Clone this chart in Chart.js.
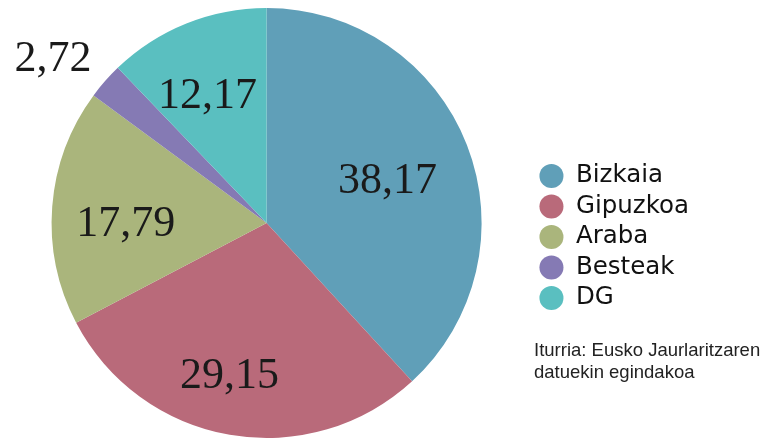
<!DOCTYPE html>
<html>
<head>
<meta charset="utf-8">
<script src="https://cdn.jsdelivr.net/npm/chart.js@4"></script>
<style>
  html, body { margin: 0; padding: 0; background: #fff; }
  #wrap { position: relative; width: 763px; height: 439px; }
  #iturria {
    position: absolute; left: 534px; top: 339px;
    font: 18.5px "Liberation Sans", Arial, sans-serif; line-height: 22px; color: #222;
  }
</style>
</head>
<body>
<div id="wrap">
  <canvas id="myChart" width="763" height="439"></canvas>
  <div id="iturria">Iturria: Eusko Jaurlaritzaren<br>datuekin egindakoa</div>
</div>
<script>
const categories = ["Bizkaia", "Gipuzkoa", "Araba", "Besteak", "DG"];
const values = [38.17, 29.15, 17.79, 2.72, 12.17];
const colors = ["#609fb8", "#b96a7a", "#aab57c", "#857ab4", "#5abfc0"];

// where each value label sits: fraction of the radius, and a small turn in degrees
const labelRadius = [0.60, 0.72, 0.655, 1.26, 0.665];
const labelTurn = [1, 4, -3.5, -3.3, -2.5];

const sliceLabels = {
  id: "sliceLabels",
  afterDatasetsDraw(chart) {
    const ctx = chart.ctx;
    const meta = chart.getDatasetMeta(0);
    ctx.save();
    ctx.font = '44px "Liberation Serif", "Times New Roman", serif';
    ctx.fillStyle = "#1a1a1a";
    ctx.textAlign = "center";
    ctx.textBaseline = "alphabetic";
    meta.data.forEach((arc, i) => {
      const p = arc.getProps(["x", "y", "startAngle", "endAngle", "outerRadius"], true);
      const mid = (p.startAngle + p.endAngle) / 2 + labelTurn[i] * Math.PI / 180;
      const x = p.x + Math.cos(mid) * p.outerRadius * labelRadius[i];
      const y = p.y + Math.sin(mid) * p.outerRadius * labelRadius[i];
      ctx.fillText(String(values[i]).replace(".", ","), x, y + 15);
    });
    ctx.restore();
  }
};

document.addEventListener("DOMContentLoaded", () => {
  const ctx = document.getElementById("myChart").getContext("2d");
  new Chart(ctx, {
    type: "pie",
    data: {
      labels: categories,
      datasets: [{
        data: values,
        backgroundColor: colors,
        borderWidth: 0
      }]
    },
    options: {
      responsive: false,
      animation: false,
      layout: { padding: { top: 8, bottom: 1, left: 0, right: 64 } },
      plugins: {
        tooltip: { enabled: false },
        legend: {
          position: "right",
          title: { display: true, text: "", font: { size: 20 }, padding: 2 },
          labels: {
            usePointStyle: true,
            pointStyle: "circle",
            boxHeight: 17,
            padding: 6,
            color: "#111",
            font: { family: '"DejaVu Sans", sans-serif', size: 24.5 }
          }
        }
      }
    },
    plugins: [sliceLabels]
  });
});
</script>
</body>
</html>
